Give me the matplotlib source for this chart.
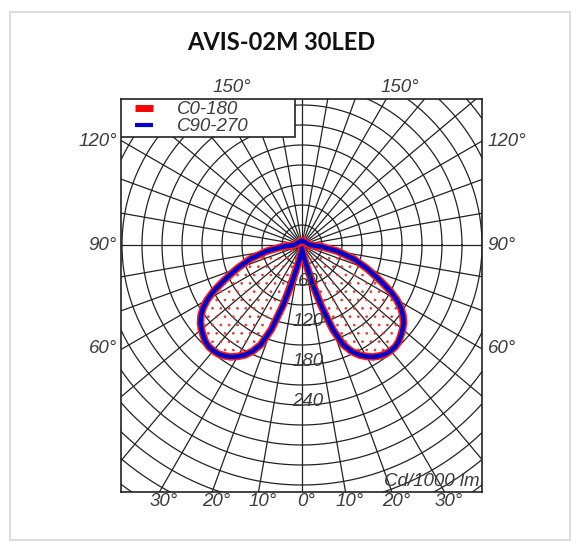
import numpy as np
import matplotlib.pyplot as plt
from matplotlib.patches import Rectangle

# luminous intensity (cd/1000 lm) against gamma angle, degrees from nadir
gamma = [0, 5, 10, 15, 17.5, 20, 22.5, 25, 27.5, 30, 32.5, 35, 37.5, 40, 42.5, 45, 47.5, 50,
         52.5, 55, 57.5, 60, 62.5, 65, 67.5, 70, 75, 80, 85, 90, 100, 120, 150, 180]
c0_180 = [5, 10, 22, 60, 95, 135, 162, 176, 186, 193, 199, 203, 206, 207, 207, 205, 201, 197,
          192, 185, 176, 164, 149, 132, 117, 104, 80, 54, 30, 12, 9, 7, 6, 6]
c90_270 = [5, 10, 22, 60, 95, 135, 162, 176, 186, 193, 199, 203, 206, 207, 207, 205, 201, 197,
           192, 185, 176, 164, 149, 132, 117, 104, 80, 54, 30, 12, 9, 7, 6, 6]

ring_step = 30
ring_labels = [60, 120, 180, 240]
side_angles = [60, 90, 120]
bottom_angles = [-30, -20, -10, 0, 10, 20, 30]
top_angle = 150
title = "AVIS-02M 30LED"
series = ["C0-180", "C90-270"]

# px per cd, box extents in px relative to centre
scale = 1 / 1.5
left_px, right_px, top_px, bot_px = 181, 180, 146, 247
xl, xr = -left_px / scale, right_px / scale
yt, yb = top_px / scale, -bot_px / scale

lab_font = ['Liberation Sans', 'DejaVu Sans']
lab_col = '#3c3c3c'
lab_size = 13.5

fig = plt.figure(figsize=(5.8, 5.52), dpi=100)
fig.patches.append(Rectangle((10 / 580, 12 / 552), 560 / 580, 528 / 552, transform=fig.transFigure,
                             fill=False, edgecolor='#d6d6d6', linewidth=1.2))
fig.text(281 / 580, 1 - 42 / 552, title, ha='center', va='center', fontsize=17,
         fontweight='bold', family=['Lato', 'DejaVu Sans'], color='#111111')

ax = fig.add_axes([121 / 580, 60 / 552, 361 / 580, 393 / 552])
ax.set_xlim(xl, xr)
ax.set_ylim(yb, yt)
ax.set_xticks([])
ax.set_yticks([])
for s in ax.spines.values():
    s.set_linewidth(1.2)
    s.set_color('#222222')

# grid: rings and radial lines every 10 degrees
t = np.linspace(0, 2 * np.pi, 400)
for r in np.arange(ring_step, 481, ring_step):
    ax.plot(r * np.cos(t), r * np.sin(t), color='#222222', lw=0.9, zorder=1)
for a in range(0, 360, 10):
    ar = np.radians(a)
    ax.plot([0, 500 * np.sin(ar)], [0, -500 * np.cos(ar)], color='#222222', lw=0.9, zorder=1)

# curves, gamma mirrored to the left half
def outline(vals):
    g = np.radians(np.array(gamma, dtype=float))
    v = np.array(vals, dtype=float)
    gg = np.concatenate([-g[::-1], g[1:]])
    vv = np.concatenate([v[::-1], v[1:]])
    return vv * np.sin(gg), -vv * np.cos(gg)

x0, y0 = outline(c0_180)
x9, y9 = outline(c90_270)
plt.rcParams['hatch.linewidth'] = 0.7
ax.fill(x0, y0, facecolor='none', edgecolor='#e23a3a', hatch='..', linewidth=0, zorder=2)
ax.plot(x0, y0, color='#ff1a1a', lw=5.5, solid_joinstyle='round', zorder=3)
ax.plot(x9, y9, color='#0000cc', lw=3.2, solid_joinstyle='round', zorder=4)

# ring values
for v in ring_labels:
    ax.text(9, -v + 5, str(v), ha='center', va='center', fontsize=lab_size, style='italic',
            family=lab_font, color=lab_col, zorder=5)

ax.text(xr - 3, yb + 3, "Cd/1000 lm", ha='right', va='bottom', fontsize=lab_size, style='italic',
        family=lab_font, color=lab_col, zorder=5)

# angle labels around the frame
for a in bottom_angles:
    xb = -yb * np.tan(np.radians(a))
    ax.annotate(f"{abs(a)}°", (xb, yb), xytext=(3, -1), textcoords='offset points',
                ha='center', va='top', fontsize=lab_size, style='italic', family=lab_font,
                color=lab_col, annotation_clip=False)
for a in side_angles:
    ys = -xr / np.tan(np.radians(a))
    ax.annotate(f"{a}°", (xr, ys), xytext=(4, 0), textcoords='offset points',
                ha='left', va='center', fontsize=lab_size, style='italic', family=lab_font,
                color=lab_col, annotation_clip=False)
    ax.annotate(f"{a}°", (xl, ys), xytext=(-3, 0), textcoords='offset points',
                ha='right', va='center', fontsize=lab_size, style='italic', family=lab_font,
                color=lab_col, annotation_clip=False)
xt = yt * np.tan(np.radians(180 - top_angle))
for sx in (-1, 1):
    ax.annotate(f"{top_angle}°", (sx * xt, yt), xytext=(-4, 2), textcoords='offset points',
                ha='left', va='bottom', fontsize=lab_size, style='italic', family=lab_font,
                color=lab_col, annotation_clip=False)

# legend box
lx1 = (295 - 302) / scale
ly0 = (245 - 137) / scale
ax.add_patch(Rectangle((xl, ly0), lx1 - xl, yt - ly0, facecolor='white',
                       edgecolor='#222222', linewidth=1.2, zorder=6))
for i, (name, col, lw) in enumerate(zip(series, ['#ff0000', '#0000cc'], [5, 3])):
    yy = (245 - 108 - 17 * i) / scale
    ax.plot([(135 - 302) / scale, (153 - 302) / scale], [yy, yy], color=col, lw=lw,
            solid_capstyle='butt', zorder=7)
    ax.text((177 - 302) / scale, yy - 2, name, ha='left', va='center', fontsize=lab_size,
            style='italic', family=lab_font, color=lab_col, zorder=7)

fig.savefig("out.png", dpi=100)
